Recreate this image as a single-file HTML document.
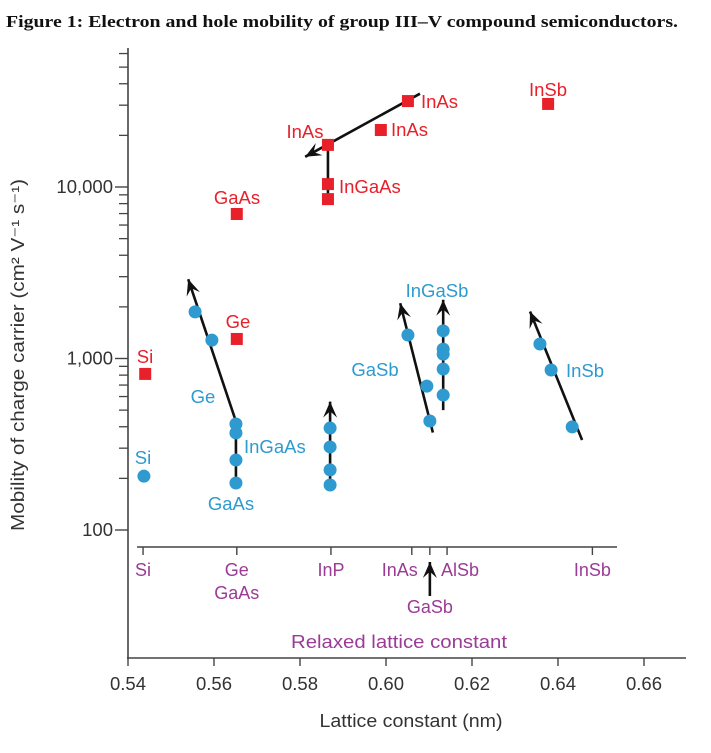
<!DOCTYPE html>
<html><head><meta charset="utf-8"><style>
body{margin:0;background:#fff;width:711px;height:753px;overflow:hidden}
svg{display:block}
text{font-family:"Liberation Sans",sans-serif}
</style></head><body>
<svg id="chart" width="711" height="753" viewBox="0 0 711 753" xmlns="http://www.w3.org/2000/svg">
<text x="6" y="27" style="font-family:'Liberation Serif',serif" font-weight="bold" font-size="16.5" textLength="672" lengthAdjust="spacingAndGlyphs" fill="#111">Figure 1: Electron and hole mobility of group III–V compound semiconductors.</text>
<text transform="translate(24,355) rotate(-90)" text-anchor="middle" font-size="18" textLength="352" lengthAdjust="spacingAndGlyphs" fill="#333">Mobility of charge carrier (cm² V⁻¹ s⁻¹)</text>
<text x="411" y="727" text-anchor="middle" font-size="18.5" textLength="183" lengthAdjust="spacingAndGlyphs" fill="#333">Lattice constant (nm)</text>
<text x="399" y="648" text-anchor="middle" font-size="18.5" textLength="216" lengthAdjust="spacingAndGlyphs" fill="#9b3b96">Relaxed lattice constant</text>
<g id="axes"></g><g id="lines"></g><g id="marks"></g><g id="labels"></g>
</svg>
<script>
const xTicks=[0.54,0.56,0.58,0.60,0.62,0.64,0.66];
const yMajor=[100,1000,10000];
const yMajorLabels=["100","1,000","10,000"];
const electronX=[0.5440,0.5653,0.5653,0.6051,0.5988,0.5865,0.5865,0.5865,0.6377];
const electronY=[813,6960,1300,31700,21500,17600,10400,8500,30500];
const holeX=[0.5437,0.5556,0.5595,0.5651,0.5651,0.5651,0.5651,0.5870,0.5870,0.5870,0.5870,0.6051,0.6095,0.6102,0.6133,0.6133,0.6133,0.6133,0.6133,0.6358,0.6384,0.6433];
const holeY=[206,1870,1280,415,368,256,188,393,305,224,183,1370,690,432,1450,1135,1060,868,612,1215,857,399];
const relaxedNames=["Si","Ge","InP","InAs","GaSb","AlSb","InSb"];
const relaxedX=[0.5435,0.5653,0.5872,0.6060,0.6102,0.6142,0.6480];
const X=v=>128+(v-0.54)*4300;
const Y=v=>530-171.5*Math.log10(v/100);
const NS="http://www.w3.org/2000/svg";
function mk(tag,parent,attrs){const e=document.createElementNS(NS,tag);for(const k in attrs)e.setAttribute(k,attrs[k]);document.getElementById(parent).appendChild(e);return e;}
const AX="#444";
let e=mk("line","axes",{x1:128,y1:48,x2:128,y2:659,stroke:AX,"stroke-width":1.6});


e=mk("line","axes",{x1:127,y1:658,x2:686,y2:658,stroke:AX,"stroke-width":1.6});


yMajor.forEach((v,i)=>{
 let t=mk("line","axes",{x1:115,y1:Y(v),x2:128,y2:Y(v),stroke:AX,"stroke-width":1.4});
 
 
 let l=mk("text","axes",{x:113,y:Y(v)+6,"text-anchor":"end","font-size":18.5,fill:"#333"});l.textContent=yMajorLabels[i];
 
 
 for(let m=2;m<=9;m++){const yy=Y(v*m);if(yy<50)break;
  let mt=mk("line","axes",{x1:119,y1:yy,x2:128,y2:yy,stroke:AX,"stroke-width":1.3});
  
  }
});
xTicks.forEach(v=>{
 let t=mk("line","axes",{x1:X(v),y1:658,x2:X(v),y2:666,stroke:AX,"stroke-width":1.4});
 
 
 let l=mk("text","axes",{x:X(v),y:690,"text-anchor":"middle","font-size":18.5,fill:"#333"});l.textContent=v.toFixed(2);
 
 
});
e=mk("line","axes",{x1:137,y1:547,x2:617,y2:547,stroke:AX,"stroke-width":1.4});


relaxedNames.forEach((n,i)=>{
 const x=X(relaxedX[i]);
 let t=mk("line","axes",{x1:x,y1:547,x2:x,y2:555,stroke:AX,"stroke-width":1.4});
 
 
 if(n==="GaSb")return;
 let anchor=n==="InAs"?"end":(n==="AlSb"?"start":"middle");
 let dx=n==="InAs"?6:(n==="AlSb"?-6:0);
 let l=mk("text","axes",{x:x+dx,y:576,"text-anchor":anchor,"font-size":18,fill:"#9b3b96"});l.textContent=n;
 
 
});
[["GaAs",X(0.5653),599],["GaSb",X(0.6102),613]].forEach(a=>{
 let l=mk("text","axes",{x:a[1],y:a[2],"text-anchor":"middle","font-size":18,fill:"#9b3b96"});l.textContent=a[0];
 
 
});
function arrow(x1,y1,x2,y2,name){
 let l=mk("line","lines",{x1:x1,y1:y1,x2:x2,y2:y2,stroke:"#111","stroke-width":2.6});
 
 
 if(name.indexOf('arrow')<0)return;
 const a=Math.atan2(y2-y1,x2-x1),L=16,W=7;
 const bx=x2-L*Math.cos(a),by=y2-L*Math.sin(a),nx=-Math.sin(a),ny=Math.cos(a);
 const ix=x2-L*0.6*Math.cos(a),iy=y2-L*0.6*Math.sin(a);
 let p=mk("polygon","lines",{points:`${x2},${y2} ${bx+nx*W},${by+ny*W} ${ix},${iy} ${bx-nx*W},${by-ny*W}`,fill:"#111"});
 
 
}
arrow(X(0.6102),596,X(0.6102),562,'gasb-relaxed-arrow');
arrow(X(0.5651),Y(180),X(0.5651),Y(420),'gaas-ingaas-line');
arrow(X(0.5651),Y(430),X(0.5540),Y(2900),'ge-arrow');
arrow(X(0.5870),Y(170),X(0.5870),Y(560),'inp-arrow');
arrow(X(0.6109),Y(370),X(0.6033),Y(2100),'gasb-arrow');
arrow(X(0.6133),Y(500),X(0.6133),Y(2200),'ingasb-arrow');
arrow(X(0.6456),Y(335),X(0.6335),Y(1880),'insb-arrow');
arrow(X(0.6079),Y(35000),X(0.5812),Y(15000),'inas-arrow');
arrow(X(0.5865),Y(17600),X(0.5865),Y(8500),'ingaas-electron-line');
electronX.forEach((v,i)=>{
 let r=mk("rect","marks",{x:X(v)-6,y:Y(electronY[i])-6,width:12,height:12,fill:"#e8202a"});
 
 
});
holeX.forEach((v,i)=>{
 let c=mk("circle","marks",{cx:X(v),cy:Y(holeY[i]),r:6.5,fill:"#2e9ad0"});
 
 
});
const labs=[["Si",145,363,"#e8202a","middle"],["GaAs",237,204,"#e8202a","middle"],["Ge",238,328,"#e8202a","middle"],
["InAs",421,108,"#e8202a","start"],["InAs",391,136,"#e8202a","start"],["InAs",305,138,"#e8202a","middle"],["InGaAs",339,193,"#e8202a","start"],["InSb",548,96,"#e8202a","middle"],
["Si",143,464,"#2e9ad0","middle"],["Ge",203,403,"#2e9ad0","middle"],["InGaAs",244,453,"#2e9ad0","start"],["GaAs",231,510,"#2e9ad0","middle"],
["InGaSb",437,297,"#2e9ad0","middle"],["GaSb",375,376,"#2e9ad0","middle"],["InSb",566,377,"#2e9ad0","start"]];
labs.forEach(a=>{
 let t=mk("text","labels",{x:a[1],y:a[2],"text-anchor":a[4],"font-size":18.5,fill:a[3]});t.textContent=a[0];
 
 
});
</script>
</body></html>
